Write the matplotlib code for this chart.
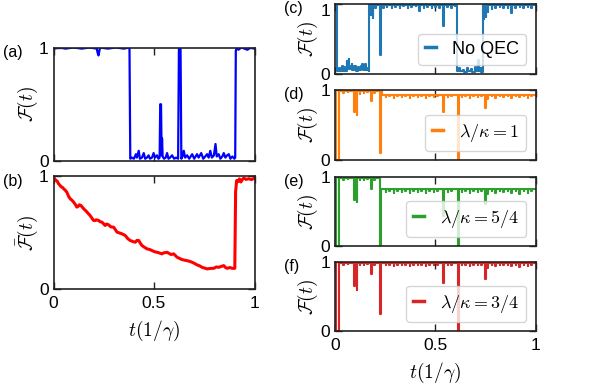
import numpy as np
import matplotlib
matplotlib.use("Agg")
import matplotlib.pyplot as plt

plt.rcParams['font.family'] = ['Liberation Sans', 'DejaVu Sans']
plt.rcParams['mathtext.fontset'] = 'cm'

# ---- data (t in 1/gamma, fidelity) ----
# (a) single trajectory fidelity
pts_a = [(0.000, 0.99), (0.03, 1.0), (0.06, 0.99), (0.10, 1.0), (0.14, 0.99), (0.18, 1.0),
         (0.215, 0.99), (0.220, 0.95), (0.224, 0.93), (0.228, 0.97), (0.232, 1.0), (0.27, 0.99),
         (0.31, 1.0), (0.35, 0.99), (0.378, 1.0),
         (0.382, 0.02), (0.390, 0.03), (0.400, 0.02), (0.410, 0.06), (0.415, 0.03), (0.424, 0.09),
         (0.430, 0.02), (0.440, 0.03), (0.449, 0.07), (0.456, 0.02), (0.465, 0.03), (0.473, 0.05),
         (0.480, 0.02), (0.490, 0.03), (0.498, 0.07), (0.505, 0.03), (0.515, 0.05), (0.522, 0.02),
         (0.528, 0.03), (0.531, 0.50), (0.535, 0.50), (0.538, 0.05), (0.540, 0.20), (0.543, 0.04),
         (0.550, 0.02), (0.558, 0.03), (0.565, 0.07), (0.572, 0.02), (0.580, 0.03), (0.590, 0.05),
         (0.600, 0.02), (0.610, 0.03), (0.620, 0.02), (0.624, 1.0), (0.632, 1.0), (0.636, 0.02),
         (0.642, 0.04), (0.648, 0.09), (0.655, 0.03), (0.665, 0.05), (0.675, 0.02), (0.690, 0.06),
         (0.700, 0.02), (0.714, 0.06), (0.722, 0.03), (0.735, 0.07), (0.745, 0.02), (0.755, 0.04),
         (0.764, 0.06), (0.772, 0.03), (0.780, 0.09), (0.788, 0.03), (0.798, 0.05), (0.806, 0.15),
         (0.812, 0.04), (0.822, 0.06), (0.830, 0.02), (0.840, 0.04), (0.847, 0.07), (0.855, 0.03),
         (0.864, 0.05), (0.872, 0.06), (0.880, 0.02), (0.890, 0.04), (0.900, 0.02), (0.904, 0.03),
         (0.907, 0.97), (0.912, 1.0), (0.92, 0.98), (0.935, 1.0), (0.95, 0.99), (0.965, 0.98),
         (0.98, 1.0), (1.0, 0.99)]

# (b) averaged fidelity
pts_b = [(0.000, 0.99), (0.010, 0.965), (0.018, 0.955), (0.025, 0.932), (0.038, 0.905),
         (0.044, 0.90), (0.050, 0.888), (0.058, 0.875), (0.066, 0.858), (0.075, 0.82),
         (0.083, 0.799), (0.092, 0.785), (0.100, 0.769), (0.108, 0.75), (0.116, 0.725),
         (0.122, 0.73), (0.128, 0.745), (0.136, 0.740), (0.143, 0.725), (0.150, 0.710),
         (0.162, 0.69), (0.174, 0.666), (0.180, 0.655), (0.188, 0.635), (0.199, 0.607),
         (0.205, 0.605), (0.212, 0.612), (0.224, 0.607), (0.232, 0.595), (0.241, 0.592),
         (0.250, 0.575), (0.257, 0.562), (0.265, 0.575), (0.274, 0.568), (0.285, 0.55),
         (0.299, 0.547), (0.308, 0.525), (0.316, 0.503), (0.330, 0.495), (0.341, 0.488),
         (0.350, 0.48), (0.357, 0.473), (0.370, 0.445), (0.382, 0.429), (0.395, 0.42),
         (0.407, 0.414), (0.415, 0.43), (0.424, 0.429), (0.432, 0.405), (0.440, 0.385),
         (0.452, 0.37), (0.465, 0.355), (0.478, 0.35), (0.490, 0.340), (0.503, 0.33),
         (0.515, 0.325), (0.528, 0.318), (0.540, 0.311), (0.548, 0.32), (0.556, 0.322),
         (0.565, 0.325), (0.573, 0.317), (0.585, 0.305), (0.598, 0.311), (0.607, 0.295),
         (0.615, 0.281), (0.628, 0.27), (0.640, 0.260), (0.652, 0.255), (0.664, 0.251),
         (0.677, 0.245), (0.689, 0.237), (0.700, 0.228), (0.714, 0.213), (0.727, 0.205),
         (0.739, 0.192), (0.752, 0.185), (0.764, 0.178), (0.780, 0.182), (0.797, 0.183),
         (0.810, 0.195), (0.822, 0.192), (0.835, 0.2), (0.847, 0.207), (0.856, 0.19),
         (0.864, 0.183), (0.878, 0.19), (0.889, 0.183), (0.902, 0.183),
         (0.906, 0.86), (0.911, 0.96), (0.918, 0.95), (0.925, 0.975), (0.932, 0.947),
         (0.940, 0.97), (0.947, 0.982), (0.958, 0.97), (0.972, 0.976), (0.985, 0.968),
         (1.0, 0.982)]

# (c) no QEC  (step values: level holds until the next time)
pts_c = [(0.000, 0.99), (0.007, 0.05), (0.020, 0.09), (0.024, 0.04), (0.032, 0.12), (0.036, 0.05),
         (0.045, 0.10), (0.049, 0.05), (0.056, 0.18), (0.060, 0.08), (0.066, 0.21), (0.070, 0.07),
         (0.078, 0.12), (0.081, 0.15), (0.085, 0.06), (0.094, 0.11), (0.098, 0.12), (0.103, 0.05),
         (0.112, 0.10), (0.116, 0.06), (0.130, 0.11), (0.134, 0.14), (0.138, 0.06), (0.146, 0.10),
         (0.149, 0.15), (0.153, 0.06), (0.162, 0.08), (0.166, 0.04),
         (0.170, 0.99), (0.176, 0.85), (0.179, 0.99), (0.186, 0.80), (0.189, 0.99), (0.200, 0.95),
         (0.203, 0.99), (0.222, 0.27), (0.226, 0.99), (0.238, 0.95), (0.241, 0.99), (0.257, 0.96),
         (0.260, 0.99), (0.281, 0.94), (0.284, 0.99), (0.298, 0.96), (0.301, 0.99), (0.322, 0.95),
         (0.325, 0.99), (0.338, 0.97), (0.341, 0.99), (0.362, 0.94), (0.365, 0.99), (0.378, 0.96),
         (0.381, 0.99), (0.401, 0.97), (0.404, 0.99), (0.418, 0.90), (0.422, 0.99), (0.441, 0.95),
         (0.444, 0.99), (0.458, 0.96), (0.461, 0.99), (0.482, 0.94), (0.485, 0.99), (0.499, 0.96),
         (0.502, 0.99), (0.519, 0.95), (0.522, 0.99), (0.536, 0.68), (0.541, 0.99), (0.558, 0.96),
         (0.561, 0.99), (0.579, 0.95), (0.582, 0.99), (0.597, 0.97), (0.600, 0.99),
         (0.608, 0.04), (0.620, 0.08), (0.624, 0.04), (0.638, 0.06), (0.642, 0.03), (0.658, 0.09),
         (0.662, 0.04), (0.678, 0.07), (0.682, 0.03), (0.698, 0.10), (0.702, 0.04), (0.714, 0.20),
         (0.718, 0.05), (0.726, 0.08), (0.730, 0.03),
         (0.737, 0.99), (0.741, 0.78), (0.745, 0.99), (0.751, 0.82), (0.755, 0.99), (0.761, 0.88),
         (0.765, 0.99), (0.781, 0.93), (0.784, 0.99), (0.798, 0.95), (0.801, 0.99), (0.822, 0.96),
         (0.825, 0.99), (0.839, 0.94), (0.842, 0.99), (0.861, 0.95), (0.864, 0.99), (0.878, 0.87),
         (0.882, 0.99), (0.899, 0.95), (0.902, 0.99), (0.921, 0.96), (0.924, 0.99), (0.938, 0.95),
         (0.941, 0.99), (0.962, 0.96), (0.965, 0.99), (0.979, 0.95), (0.982, 0.99), (1.0, 0.99)]

# (d) lambda/kappa = 1
pts_d = [(0.000, 0.99), (0.004, 0.0), (0.016, 0.99), (0.040, 0.96), (0.043, 0.99), (0.062, 0.97),
         (0.065, 0.99), (0.094, 0.68), (0.098, 0.99), (0.106, 0.65), (0.110, 0.99), (0.121, 0.95),
         (0.124, 0.99), (0.141, 0.96), (0.144, 0.99), (0.158, 0.97), (0.161, 0.99), (0.177, 0.85),
         (0.181, 0.99), (0.195, 0.96), (0.198, 0.99), (0.222, 0.10), (0.226, 0.99), (0.232, 0.93),
         (0.251, 0.90), (0.254, 0.93), (0.268, 0.91), (0.271, 0.93), (0.292, 0.89), (0.295, 0.93),
         (0.309, 0.91), (0.312, 0.93), (0.331, 0.90), (0.334, 0.93), (0.348, 0.91), (0.351, 0.93),
         (0.372, 0.89), (0.375, 0.93), (0.388, 0.91), (0.391, 0.93), (0.412, 0.90), (0.415, 0.93),
         (0.428, 0.91), (0.431, 0.93), (0.452, 0.89), (0.455, 0.93), (0.469, 0.91), (0.472, 0.93),
         (0.491, 0.90), (0.494, 0.93), (0.509, 0.91), (0.512, 0.93), (0.536, 0.69), (0.541, 0.93),
         (0.561, 0.90), (0.564, 0.93), (0.579, 0.91), (0.582, 0.93), (0.611, 0.0), (0.617, 0.93),
         (0.632, 0.90), (0.635, 0.93), (0.649, 0.91), (0.652, 0.93), (0.671, 0.89), (0.674, 0.93),
         (0.688, 0.91), (0.691, 0.93), (0.712, 0.90), (0.715, 0.93), (0.729, 0.91), (0.732, 0.93),
         (0.747, 0.74), (0.751, 0.93), (0.758, 0.87), (0.762, 0.93), (0.781, 0.91), (0.784, 0.93),
         (0.798, 0.89), (0.801, 0.93), (0.822, 0.91), (0.825, 0.93), (0.839, 0.90), (0.842, 0.93),
         (0.861, 0.91), (0.864, 0.93), (0.879, 0.89), (0.882, 0.93), (0.901, 0.91), (0.904, 0.93),
         (0.918, 0.90), (0.921, 0.93), (0.941, 0.91), (0.944, 0.93), (0.961, 0.89), (0.964, 0.93),
         (0.978, 0.91), (0.981, 0.93), (1.0, 0.93)]

# (e) lambda/kappa = 5/4
pts_e = [(0.000, 0.99), (0.004, 0.0), (0.016, 0.99), (0.040, 0.96), (0.043, 0.99), (0.062, 0.97),
         (0.065, 0.99), (0.094, 0.66), (0.098, 0.99), (0.106, 0.64), (0.110, 0.99), (0.121, 0.95),
         (0.124, 0.99), (0.141, 0.96), (0.144, 0.99), (0.158, 0.97), (0.161, 0.99), (0.177, 0.83),
         (0.181, 0.99), (0.195, 0.96), (0.198, 0.99), (0.222, 0.0), (0.227, 0.82),
         (0.251, 0.78), (0.254, 0.82), (0.268, 0.79), (0.271, 0.82), (0.292, 0.77), (0.295, 0.82),
         (0.309, 0.79), (0.312, 0.82), (0.331, 0.78), (0.334, 0.82), (0.348, 0.79), (0.351, 0.82),
         (0.372, 0.77), (0.375, 0.82), (0.388, 0.79), (0.391, 0.82), (0.412, 0.78), (0.415, 0.82),
         (0.428, 0.79), (0.431, 0.82), (0.452, 0.77), (0.455, 0.82), (0.469, 0.79), (0.472, 0.82),
         (0.491, 0.78), (0.494, 0.82), (0.509, 0.79), (0.512, 0.82), (0.536, 0.44), (0.541, 0.82),
         (0.561, 0.78), (0.564, 0.82), (0.579, 0.79), (0.582, 0.82), (0.611, 0.0), (0.617, 0.82),
         (0.632, 0.78), (0.635, 0.82), (0.649, 0.79), (0.652, 0.82), (0.671, 0.77), (0.674, 0.82),
         (0.688, 0.79), (0.691, 0.82), (0.712, 0.78), (0.715, 0.82), (0.729, 0.79), (0.732, 0.82),
         (0.747, 0.61), (0.751, 0.82), (0.758, 0.76), (0.762, 0.82), (0.781, 0.79), (0.784, 0.82),
         (0.798, 0.77), (0.801, 0.82), (0.822, 0.79), (0.825, 0.82), (0.839, 0.78), (0.842, 0.82),
         (0.861, 0.79), (0.864, 0.82), (0.879, 0.77), (0.882, 0.82), (0.901, 0.79), (0.904, 0.82),
         (0.918, 0.76), (0.921, 0.82), (0.941, 0.79), (0.944, 0.82), (0.961, 0.77), (0.964, 0.82),
         (0.978, 0.79), (0.981, 0.82), (1.0, 0.82)]

# (f) lambda/kappa = 3/4
pts_f = [(0.000, 0.99), (0.004, 0.0), (0.016, 0.99), (0.040, 0.96), (0.043, 0.99), (0.062, 0.97),
         (0.065, 0.99), (0.094, 0.65), (0.098, 0.99), (0.106, 0.59), (0.110, 0.99), (0.121, 0.95),
         (0.124, 0.99), (0.141, 0.96), (0.144, 0.99), (0.158, 0.97), (0.161, 0.99), (0.177, 0.83),
         (0.181, 0.99), (0.195, 0.96), (0.198, 0.99), (0.222, 0.24), (0.226, 0.99),
         (0.251, 0.95), (0.254, 0.99), (0.268, 0.96), (0.271, 0.99), (0.292, 0.94), (0.295, 0.99),
         (0.309, 0.96), (0.312, 0.99), (0.331, 0.95), (0.334, 0.99), (0.348, 0.96), (0.351, 0.99),
         (0.372, 0.94), (0.375, 0.99), (0.388, 0.96), (0.391, 0.99), (0.412, 0.95), (0.415, 0.99),
         (0.428, 0.96), (0.431, 0.99), (0.452, 0.94), (0.455, 0.99), (0.469, 0.96), (0.472, 0.99),
         (0.491, 0.95), (0.494, 0.99), (0.509, 0.96), (0.512, 0.99), (0.536, 0.69), (0.541, 0.99),
         (0.561, 0.95), (0.564, 0.99), (0.579, 0.96), (0.582, 0.99), (0.611, 0.0), (0.617, 0.99),
         (0.632, 0.95), (0.635, 0.99), (0.649, 0.96), (0.652, 0.99), (0.671, 0.94), (0.674, 0.99),
         (0.688, 0.96), (0.691, 0.99), (0.712, 0.95), (0.715, 0.99), (0.729, 0.96), (0.732, 0.99),
         (0.747, 0.76), (0.751, 0.99), (0.758, 0.91), (0.762, 0.99), (0.781, 0.96), (0.784, 0.99),
         (0.798, 0.94), (0.801, 0.99), (0.822, 0.96), (0.825, 0.99), (0.839, 0.95), (0.842, 0.99),
         (0.861, 0.96), (0.864, 0.99), (0.879, 0.94), (0.882, 0.99), (0.901, 0.96), (0.904, 0.99),
         (0.918, 0.93), (0.921, 0.99), (0.941, 0.96), (0.944, 0.99), (0.961, 0.94), (0.964, 0.99),
         (0.978, 0.96), (0.981, 0.99), (1.0, 0.99)]

right_labels = ['No QEC', r'$\lambda/\kappa=1$', r'$\lambda/\kappa=5/4$', r'$\lambda/\kappa=3/4$']
right_colors = ['tab:blue', 'tab:orange', 'tab:green', 'tab:red']
xticks = [0, 0.5, 1]
xticklabels = ['0', '0.5', '1']
yticks = [0, 1]
yticklabels = ['0', '1']

W, H = 598, 385
fig = plt.figure(figsize=(W / 100, H / 100), dpi=100)


def px_axes(x0, y0, x1, y1):
    # axes from pixel box (top-left origin)
    return fig.add_axes([x0 / W, 1 - y1 / H, (x1 - x0) / W, (y1 - y0) / H])


def style(ax, show_x):
    ax.set_xlim(0, 1)
    ax.set_ylim(0, 1)
    ax.set_xticks(xticks)
    ax.set_yticks(yticks)
    ax.set_yticklabels(yticklabels)
    if show_x:
        ax.set_xticklabels(xticklabels)
    else:
        ax.set_xticklabels([])
    ax.tick_params(direction='in', top=True, right=True, length=5, width=1,
                   labelsize=12.5, pad=3.5, color='#222222')
    ax.tick_params(axis='x', pad=5)
    for s in ax.spines.values():
        s.set_linewidth(1.2)
        s.set_color('#222222')


# left column
ax_a = px_axes(53.5, 47.5, 254.5, 161)
ax_b = px_axes(53.5, 176, 254.5, 289)
t, F = np.array(pts_a).T
ax_a.plot(t, F, color='#0000ff', lw=1.6)
t, F = np.array(pts_b).T
ax_b.plot(t, F, color='#ff0000', lw=2.2)
style(ax_a, False)
style(ax_b, True)
ax_a.set_ylabel(r'$\mathcal{F}(t)$', fontsize=14)
ax_b.set_ylabel(r'$\bar{\mathcal{F}}(t)$', fontsize=14)
for ax in (ax_a, ax_b):
    ax.yaxis.set_label_coords(-0.065, 0.5)
ax_b.set_xlabel(r'$t(1/\gamma)$', fontsize=14)
ax_b.xaxis.set_label_coords(0.5, -0.26)
fig.text(3 / W, 1 - 53 / H, '(a)', fontsize=11.5, va='center', ha='left')
fig.text(3 / W, 1 - 182 / H, '(b)', fontsize=11.5, va='center', ha='left')

# right column
boxes = [(4, 74), (90, 160), (177, 246), (262, 331)]
series = [pts_c, pts_d, pts_e, pts_f]
tags = ['(c)', '(d)', '(e)', '(f)']
for i, (yy, pts) in enumerate(zip(boxes, series)):
    ax = px_axes(335.3, yy[0], 535.5, yy[1])
    t, F = np.array(pts).T
    ax.plot(t, F, color=right_colors[i], lw=1.5, drawstyle='steps-post', label=right_labels[i])
    style(ax, i == 3)
    ax.set_ylabel(r'$\mathcal{F}(t)$', fontsize=14)
    ax.yaxis.set_label_coords(-0.075, 0.5)
    leg = ax.legend(loc='lower right', fontsize=13, handlelength=0.6, handletextpad=0.9,
                    borderpad=0.4, borderaxespad=0.5, framealpha=0.8)
    for h in leg.get_lines():
        h.set_linewidth(2.5)
    fig.text(284 / W, 1 - (yy[0] + 4) / H, tags[i], fontsize=11.5, va='center', ha='left')
    if i == 0:
        # top panel sits at the figure edge: keep its "1" label inside the picture
        ax.get_yticklabels()[1].set_verticalalignment('top')
        ax.get_yticklabels()[1].set_y(1.04)
    if i == 3:
        ax.set_xlabel(r'$t(1/\gamma)$', fontsize=14)
        ax.xaxis.set_label_coords(0.5, -0.44)

fig.savefig('out.png', dpi=100)
